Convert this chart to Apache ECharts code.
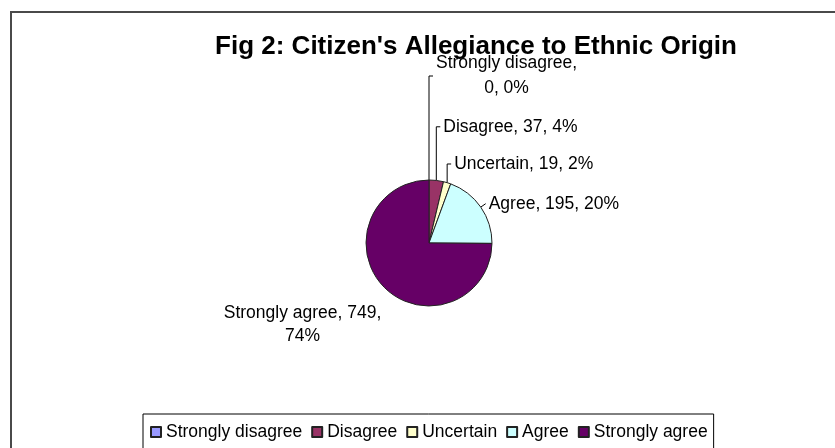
<!DOCTYPE html>
<html><head><meta charset="utf-8">
<script src="https://cdn.jsdelivr.net/npm/echarts@6/dist/echarts.min.js"></script>
<style>html,body{margin:0;padding:0;background:#fff}#c{width:835px;height:448px}</style>
</head><body><div id="c"></div>
<script>
// ---- data ----
const categories = ['Strongly disagree', 'Disagree', 'Uncertain', 'Agree', 'Strongly agree'];
const counts = [0, 37, 19, 195, 749];
const percents = [0, 4, 2, 20, 74];
const titleText = "Fig 2: Citizen's Allegiance to Ethnic Origin";

// ---- styles ----
const colors = ['#9999FF', '#993366', '#FFFFCC', '#CCFFFF', '#660066'];
const FONT = '"Liberation Sans", Arial, sans-serif';
const lineLen = [104, 54, 19.5, 6, 0];
const lineLen2 = [4, 4, 4, 0, 0];
const partsOnFirstLine = [1, 3, 3, 3, 2];
const lineHeights = [25, 25, 25, 25, 23];

function labelText(i) {
  const parts = [categories[i], String(counts[i]), percents[i] + '%'];
  const k = partsOnFirstLine[i];
  const lines = [parts.slice(0, k).join(', ') + (k < parts.length ? ',' : '')];
  if (k < parts.length) lines.push(parts.slice(k).join(', '));
  return lines.map(l => '{c|' + l + '}').join('\n');
}

const data = categories.map((name, i) => ({
  name: name,
  value: counts[i],
  itemStyle: { color: colors[i] },
  label: {
    formatter: labelText(i),
    rich: { c: { align: 'center', fontSize: 17.5, fontFamily: FONT, color: '#000', lineHeight: lineHeights[i] } }
  },
  labelLine: { show: i !== 4, length: lineLen[i], length2: lineLen2[i] }
}));

const chart = echarts.init(document.getElementById('c'), null, { renderer: 'canvas' });
chart.setOption({
  animation: false,
  backgroundColor: '#fff',
  graphic: [{
    type: 'rect', silent: true, z: -10,
    shape: { x: 11, y: 12, width: 900, height: 500 },
    style: { fill: 'none', stroke: '#4a4a4a', lineWidth: 2 }
  }],
  title: {
    text: titleText,
    left: 476, top: 34, padding: 0, textAlign: 'center',
    textStyle: { fontFamily: FONT, fontSize: 26, fontWeight: 'bold', color: '#000' }
  },
  legend: {
    data: categories,
    left: 143, top: 414,
    padding: [9, 6, 11, 7],
    itemGap: 9, itemWidth: 10, itemHeight: 10,
    icon: 'rect',
    borderColor: '#000', borderWidth: 1,
    selectedMode: false,
    textStyle: { fontFamily: FONT, fontSize: 17.5, color: '#000' }
  },
  series: [{
    type: 'pie',
    center: [429, 243],
    radius: 63,
    startAngle: 90,
    clockwise: true,
    avoidLabelOverlap: false,
    silent: true,
    itemStyle: { borderColor: '#222', borderWidth: 1 },
    emphasis: { disabled: true },
    label: {
      show: true, position: 'outside', distanceToLabelLine: 3,
      color: '#000', fontFamily: FONT, fontSize: 17.5
    },
    labelLine: { smooth: false, lineStyle: { color: '#000', width: 1 } },
    labelLayout: function (p) {
      const r = p.labelRect;
      if (p.dataIndex === 4) {
        return { y: r.y + r.height / 2 + 37 };
      }
      const pts = p.labelLinePoints;
      if (!pts || pts.length < 3) return {};
      const a = pts[0], b = pts[1], c = pts[2];
      const ddx = b[0] - a[0], ddy = b[1] - a[1];
      if (Math.abs(ddy) > 3 * Math.abs(ddx)) {
        // Excel-style leader: straight up, then a short tick to the right
        const len2 = Math.abs(c[0] - b[0]);
        const dist = p.align === 'right' ? c[0] - (r.x + r.width) : r.x - c[0];
        return {
          x: a[0] + len2 + dist,
          align: 'left',
          labelLinePoints: [[a[0], a[1]], [a[0], b[1]], [a[0] + len2, b[1]]]
        };
      }
      return {};
    },
    data: data
  }]
});
</script>
</body></html>
